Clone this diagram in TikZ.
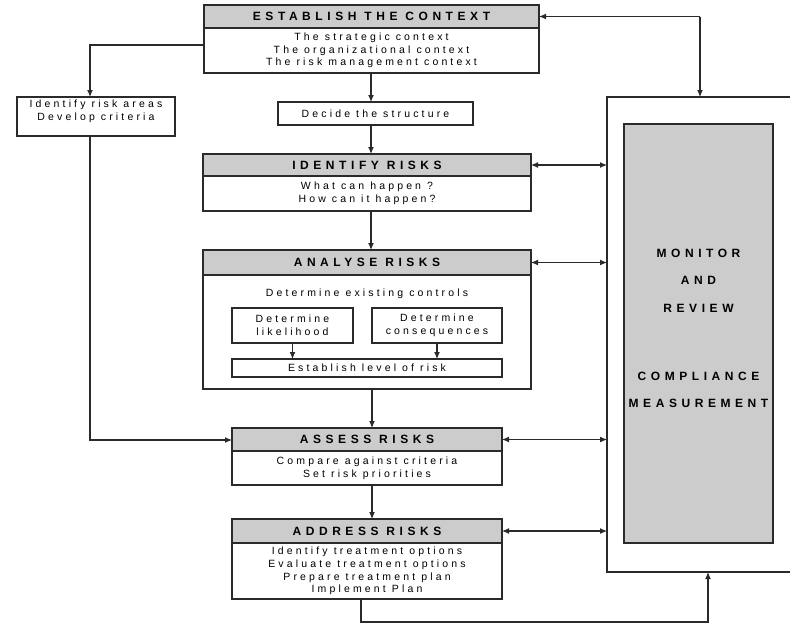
\documentclass[tikz,border=0pt]{standalone}
\usepackage{fontspec}
\setmainfont{Liberation Sans}
\newfontfamily\hdrfont[LetterSpace=38]{Liberation Sans Bold}
\newfontfamily\bodyfontfam[LetterSpace=30]{Liberation Sans}
\usetikzlibrary{arrows.meta}
\definecolor{hdrgray}{HTML}{CCCCCC}
\definecolor{linegray}{HTML}{2A2A2A}
\begin{document}
\begin{tikzpicture}[x=1pt,y=-1pt,
  box/.style={draw=linegray, line width=1.1pt, inner sep=0pt, outer sep=0pt},
  hdr/.style={box, fill=hdrgray, font=\hdrfont\fontsize{12}{13}\selectfont},
  bodybox/.style={box, fill=white, align=center, font=\bodyfontfam\fontsize{10.5}{12.7}\selectfont},
  txt/.style={inner sep=0pt, align=center, font=\bodyfontfam\fontsize{10.5}{12.7}\selectfont},
  montxt/.style={inner sep=0pt, font=\hdrfont\fontsize{12}{13}\selectfont},
  conn/.style={draw=linegray, line width=1.1pt, -{Latex[length=7pt,width=6pt]}},
  dconn/.style={draw=linegray, line width=1.1pt, {Latex[length=7pt,width=6pt]}-{Latex[length=7pt,width=6pt]}}
]
\useasboundingbox (0,0) rectangle (790,624);

% Establish the context
\node[hdr, minimum width=335, minimum height=23] (esth) at (371.5,16.5) {ESTABLISH THE CONTEXT};
\node[bodybox, minimum width=335, minimum height=45] (estb) at (371.5,50.5) {The strategic context\\The organizational context\\The risk management context};

% Left box
\node[bodybox, minimum width=158, minimum height=39, text depth=12pt] (left) at (96,116.5) {Identify risk areas\\Develop criteria};

% Decide
\node[bodybox, minimum width=195, minimum height=23] (dec) at (375.5,113.5) {Decide the structure};

% Identify
\node[hdr, minimum width=328, minimum height=22] (idh) at (367,165) {IDENTIFY RISKS};
\node[bodybox, minimum width=328, minimum height=35] (idb) at (367,193.5) {What can happen ?\\How can it happen?};

% Analyse
\node[hdr, minimum width=328, minimum height=25] (anh) at (367,262.5) {ANALYSE RISKS};
\node[box, fill=white, minimum width=328, minimum height=114] (anb) at (367,332) {};
\node[txt] (ctrl) at (367,294) {Determine existing controls};
\node[bodybox, minimum width=121, minimum height=35] (lik) at (292.5,325.5) {Determine\\likelihood};
\node[bodybox, minimum width=130, minimum height=35] (cons) at (437,325.5) {Determine\\consequences};
\node[bodybox, minimum width=270, minimum height=18] (lvl) at (367,368) {Establish level of risk};

% Assess
\node[hdr, minimum width=270, minimum height=23] (ash) at (367,439.5) {ASSESS RISKS};
\node[bodybox, minimum width=270, minimum height=34] (asb) at (367,468) {Compare against criteria\\Set risk priorities};

% Address
\node[hdr, minimum width=270, minimum height=24] (adh) at (367,531) {ADDRESS RISKS};
\node[bodybox, minimum width=270, minimum height=56] (adb) at (367,571) {Identify treatment options\\Evaluate treatment options\\Prepare treatment plan\\Implement Plan};

% Monitor outer (open on the right, cut by the page edge)
\coordinate (monTL) at (607,97);
\coordinate (monBL) at (607,572);
\draw[draw=linegray, line width=1.1pt] (790,97) -- (monTL) -- (monBL) -- (790,572);
\node[box, fill=hdrgray, minimum width=149, minimum height=419] (inner) at (698.5,333.5) {};
\node[montxt] (m1) at (698.5,253) {MONITOR};
\node[montxt] (m2) at (698.5,280) {AND};
\node[montxt] (m3) at (698.5,308) {REVIEW};
\node[montxt] (m4) at (698.5,376) {COMPLIANCE};
\node[montxt] (m5) at (698.5,403) {MEASUREMENT};

% Coordinates for connectors
\coordinate (topR) at (700,16.5);
\coordinate (leftTop) at (90,45);
\coordinate (leftBot) at (90,440);
\coordinate (botL) at (361,622);
\coordinate (botR) at (708,622);

% Connectors
\draw[conn] (topR) -- (esth.east);
\draw[conn] (topR) -- (topR |- monTL);
\draw[conn] (estb.west |- leftTop) -- (leftTop) -- (leftTop |- left.north);
\draw[conn] (estb.south -| 371,0) -- (371,0 |- dec.north);
\draw[conn] (dec.south -| 371,0) -- (371,0 |- idh.north);
\draw[conn] (idb.south -| 371,0) -- (371,0 |- anh.north);
\draw[conn] (anb.south -| 372,0) -- (372,0 |- ash.north);
\draw[conn] (asb.south -| 372,0) -- (372,0 |- adh.north);
\draw[conn] (lik.south) -- (lik.south |- lvl.north);
\draw[conn] (cons.south) -- (cons.south |- lvl.north);
\draw[conn] (left.south -| leftTop) -- (leftBot) -- (ash.west |- leftBot);
\draw[conn] (adb.south -| botL) -- (botL) -- (botR) -- (botR |- monBL);

% Double arrows to monitor
\draw[dconn] (idh.east) -- (idh.east -| monTL);
\draw[dconn] (anh.east) -- (anh.east -| monTL);
\draw[dconn] (ash.east) -- (ash.east -| monTL);
\draw[dconn] (adh.east) -- (adh.east -| monTL);
\end{tikzpicture}
\end{document}
